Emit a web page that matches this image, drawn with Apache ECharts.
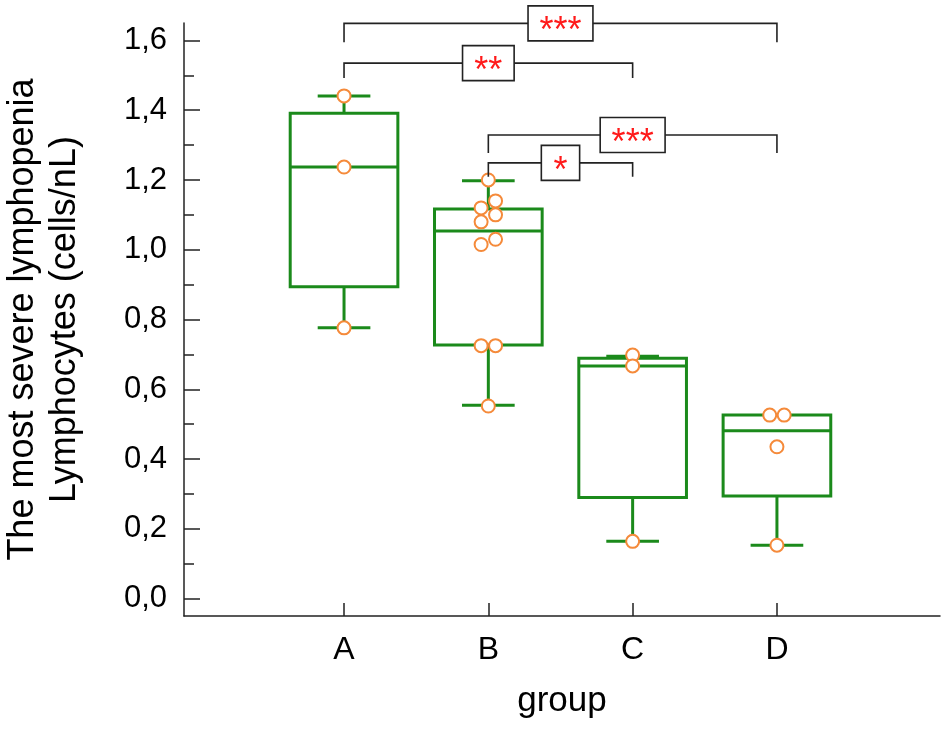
<!DOCTYPE html>
<html>
<head>
<meta charset="utf-8">
<script src="https://cdn.jsdelivr.net/npm/echarts@6/dist/echarts.min.js"></script>
<style>
  html, body { margin: 0; background: #fff; }
  #main { width: 945px; height: 730px; }
</style>
</head>
<body>
<div id="main"></div>
<script>
// groups on the x axis
var groups = ['A', 'B', 'C', 'D'];

// box statistics
var boxMin = [0.776, 0.554, 0.164, 0.153];
var boxQ1 = [0.894, 0.727, 0.290, 0.294];
var boxMedian = [1.237, 1.054, 0.667, 0.481];
var boxQ3 = [1.391, 1.117, 0.689, 0.526];
var boxMax = [1.441, 1.198, 0.695, 0.526];

// raw points of each group
var pointsA = [1.441, 1.237, 0.776];
var pointsB = [1.20, 1.14, 1.12, 1.10, 1.08, 1.03, 1.015, 0.725, 0.725, 0.552];
var pointsC = [0.698, 0.667, 0.164];
var pointsD = [0.526, 0.526, 0.435, 0.153];

// significance brackets
var sigFrom = ['A', 'A', 'B', 'B'];
var sigTo = ['D', 'C', 'D', 'C'];
var sigLevel = [1.649, 1.535, 1.329, 1.249];
var sigLegEnd = [1.595, 1.492, 1.277, 1.209];
var sigLabel = ['***', '**', '***', '*'];

// y ticks
var yTicks = [0, 0.2, 0.4, 0.6, 0.8, 1.0, 1.2, 1.4, 1.6];
var yMinorTicks = [0.1, 0.3, 0.5, 0.7, 0.9, 1.1, 1.3, 1.5];

var GREEN = '#1b8a1b';
var ORANGE = '#f58a3a';
var AXIS = '#222';
var FONT = 'Liberation Sans, Arial, sans-serif';
var BOX_W = 0.746;
var CAP_W = 0.365;
var JITTER = 0.05;

var chart = echarts.init(document.getElementById('main'));

// points that sit close together are set side by side, the rest stay centred
function spread(values, gi) {
  var x = gi + 1;
  var sorted = values.slice().sort(function (a, b) { return b - a; });
  var clusters = [];
  sorted.forEach(function (v, i) {
    if (i > 0 && sorted[i - 1] - v <= 0.0251) {
      clusters[clusters.length - 1].push(v);
    } else {
      clusters.push([v]);
    }
  });
  var out = [];
  clusters.forEach(function (c) {
    if (c.length === 1) {
      out.push([x, c[0]]);
    } else {
      c.forEach(function (v, k) {
        out.push([x + (k % 2 === 0 ? JITTER : -JITTER), v]);
      });
    }
  });
  return out;
}

var allPoints = [pointsA, pointsB, pointsC, pointsD];
var scatterData = [];
allPoints.forEach(function (p, i) {
  scatterData = scatterData.concat(spread(p, i));
});

var boxData = groups.map(function (g, i) {
  return [i + 1, boxMin[i], boxQ1[i], boxMedian[i], boxQ3[i], boxMax[i]];
});

var sigData = sigFrom.map(function (f, i) {
  return [groups.indexOf(f) + 1, groups.indexOf(sigTo[i]) + 1, sigLevel[i], sigLegEnd[i]];
});

function renderBox(params, api) {
  var x = api.value(0);
  var pMin = api.coord([x, api.value(1)]);
  var pQ1 = api.coord([x, api.value(2)]);
  var pMed = api.coord([x, api.value(3)]);
  var pQ3 = api.coord([x, api.value(4)]);
  var pMax = api.coord([x, api.value(5)]);
  var hb = api.size([BOX_W, 0])[0] / 2;
  var hc = api.size([CAP_W, 0])[0] / 2;
  var cx = pMed[0];
  var st = { stroke: GREEN, lineWidth: 3, fill: null };
  var children = [
    { type: 'line', shape: { x1: cx, y1: pQ1[1], x2: cx, y2: pMin[1] }, style: st },
    { type: 'line', shape: { x1: cx - hc, y1: pMin[1], x2: cx + hc, y2: pMin[1] }, style: st },
    { type: 'rect', shape: { x: cx - hb, y: pQ3[1], width: hb * 2, height: pQ1[1] - pQ3[1] }, style: st },
    { type: 'line', shape: { x1: cx - hb, y1: pMed[1], x2: cx + hb, y2: pMed[1] }, style: st }
  ];
  if (api.value(5) > api.value(4)) {
    children.push({ type: 'line', shape: { x1: cx, y1: pQ3[1], x2: cx, y2: pMax[1] }, style: st });
    children.push({ type: 'line', shape: { x1: cx - hc, y1: pMax[1], x2: cx + hc, y2: pMax[1] }, style: st });
  }
  return { type: 'group', children: children };
}

function renderSig(params, api) {
  var a = api.coord([api.value(0), api.value(2)]);
  var b = api.coord([api.value(1), api.value(2)]);
  var legA = api.coord([api.value(0), api.value(3)]);
  var legB = api.coord([api.value(1), api.value(3)]);
  var txt = sigLabel[params.dataIndex];
  var w = 25 + 13.3 * txt.length;
  var h = 35;
  var mx = (a[0] + b[0]) / 2;
  var my = a[1];
  return {
    type: 'group',
    children: [
      {
        type: 'polyline',
        shape: { points: [[legA[0], legA[1]], [a[0], a[1]], [b[0], b[1]], [legB[0], legB[1]]] },
        style: { stroke: AXIS, lineWidth: 1.6, fill: null }
      },
      {
        type: 'rect',
        shape: { x: mx - w / 2, y: my - h / 2, width: w, height: h },
        style: { fill: '#fff', stroke: AXIS, lineWidth: 1.6 }
      },
      {
        type: 'text',
        x: mx,
        y: my + 9,
        style: {
          text: txt,
          fill: '#ff1a1a',
          font: '36px ' + FONT,
          align: 'center',
          verticalAlign: 'middle',
          textAlign: 'center',
          textVerticalAlign: 'middle'
        }
      }
    ]
  };
}

var option = {
  animation: false,
  backgroundColor: '#fff',
  grid: { left: 184, right: 5, top: 23, bottom: 114, outerBoundsMode: 'none', containLabel: false },
  xAxis: {
    type: 'value',
    min: -0.109,
    max: 5.13,
    name: 'group',
    nameLocation: 'middle',
    nameGap: 68,
    nameTextStyle: { fontSize: 35, color: '#000', fontFamily: FONT },
    axisLine: { onZero: false, lineStyle: { color: AXIS, width: 1.5 } },
    axisTick: { customValues: [1, 2, 3, 4], inside: true, length: 13, lineStyle: { color: AXIS, width: 1.5 } },
    axisLabel: {
      customValues: [1, 2, 3, 4],
      formatter: function (v) { return groups[Math.round(v) - 1]; },
      fontSize: 32,
      color: '#000',
      fontFamily: FONT,
      margin: 18
    },
    splitLine: { show: false }
  },
  yAxis: [
    {
      type: 'value',
      min: -0.05,
      max: 1.65,
      name: 'The most severe lymphopenia\nLymphocytes (cells/nL)',
      nameLocation: 'middle',
      nameGap: 98,
      nameTextStyle: { fontSize: 36, lineHeight: 42, color: '#000', fontFamily: FONT },
      axisLine: { onZero: false, lineStyle: { color: AXIS, width: 1.5 } },
      axisTick: { customValues: yTicks, inside: true, length: 16, lineStyle: { color: AXIS, width: 1.5 } },
      axisLabel: {
        customValues: yTicks,
        formatter: function (v) { return v.toFixed(1).replace('.', ','); },
        fontSize: 31,
        color: '#000',
        fontFamily: FONT,
        margin: 17
      },
      splitLine: { show: false }
    },
    {
      type: 'value',
      min: -0.05,
      max: 1.65,
      position: 'left',
      axisLine: { show: false, onZero: false },
      axisTick: { customValues: yMinorTicks, inside: true, length: 10, lineStyle: { color: AXIS, width: 1.5 } },
      axisLabel: { show: false },
      splitLine: { show: false }
    }
  ],
  series: [
    {
      type: 'custom',
      z: 2,
      renderItem: renderBox,
      encode: { x: 0, y: [1, 2, 3, 4, 5] },
      data: boxData
    },
    {
      type: 'scatter',
      z: 3,
      symbol: 'circle',
      symbolSize: 13,
      itemStyle: { color: '#fff', borderColor: ORANGE, borderWidth: 2, opacity: 1 },
      data: scatterData
    },
    {
      type: 'custom',
      z: 4,
      renderItem: renderSig,
      encode: { x: [0, 1], y: [2, 3] },
      data: sigData
    }
  ]
};

chart.setOption(option);
</script>
</body>
</html>
